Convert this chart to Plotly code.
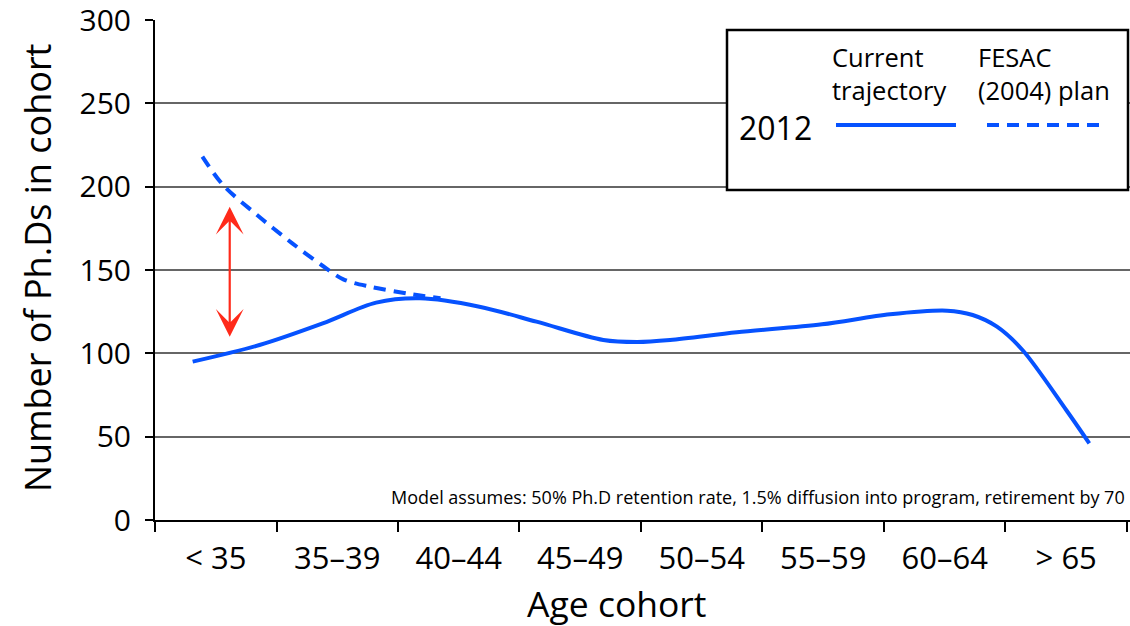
import plotly.graph_objects as go

categories = ["< 35", "35–39", "40–44", "45–49", "50–54", "55–59", "60–64", "> 65"]

# Current trajectory (x in category units)
current_x = [-0.19, 0.36, 0.88, 1.32, 1.68, 2.17, 2.64, 3.19, 3.47, 3.74, 4.29, 4.99, 5.55, 6.02, 6.23, 6.43, 6.64, 7.0, 7.19]
current_y = [95, 105, 118, 130.4, 133, 128, 119, 108, 106.8, 108, 112.6, 117.4, 123.4, 125.6, 123, 116, 102, 66, 46]

# FESAC (2004) plan
fesac_x = [-0.11, 0.06, 0.34, 0.63, 0.87, 1.05, 1.27, 1.62, 1.85]
fesac_y = [218, 201, 183, 166, 153, 144.4, 140, 135.4, 133]

y_ticks = [0, 50, 100, 150, 200, 250, 300]
arrow_x = 0.115
arrow_top = 188
arrow_bottom = 109

BLUE = "#0652ff"
RED = "#ff2a1a"
FONT = "Open Sans"

fig = go.Figure()
fig.add_trace(go.Scatter(x=current_x, y=current_y, mode="lines",
                         line=dict(color=BLUE, width=4, shape="spline", smoothing=0.9),
                         showlegend=False, hoverinfo="skip"))
fig.add_trace(go.Scatter(x=fesac_x, y=fesac_y, mode="lines",
                         line=dict(color=BLUE, width=4, shape="spline", smoothing=0.9, dash="12px,8px"),
                         showlegend=False, hoverinfo="skip"))

W, H = 1130, 626
L, R, T, B = 155, 0, 20, 106
pw = W - L - R
ph = H - T - B

def px(xp):  # page pixel -> paper
    return (xp - L) / pw

def py(yp):
    return (H - B - yp) / ph

fig.update_layout(
    width=W, height=H,
    margin=dict(l=L, r=R, t=T, b=B, autoexpand=False),
    paper_bgcolor="white", plot_bgcolor="white",
    font=dict(family=FONT, color="black"),
    showlegend=False,
    xaxis=dict(
        range=[-0.5, 7.525], tickmode="array", tickvals=list(range(len(categories))),
        ticktext=categories, ticks="", showgrid=False, zeroline=False,
        showline=True, linecolor="black", linewidth=2, automargin=False,
        tickfont=dict(size=31, family=FONT, color="black"),
        ticklabelstandoff=10, ticklabeloverflow="allow",
        minor=dict(tickmode="array", tickvals=[i - 0.5 for i in range(len(categories) + 1)],
                   ticks="outside", ticklen=10, tickwidth=2, tickcolor="black", showgrid=False),
    ),
    yaxis=dict(
        range=[0, 300], tickmode="array", tickvals=y_ticks,
        ticks="outside", ticklen=8, tickwidth=2, tickcolor="black",
        showgrid=True, gridcolor="#666666", gridwidth=1.5, zeroline=False,
        showline=True, linecolor="black", linewidth=2, automargin=False,
        tickfont=dict(size=30, family=FONT, color="black"),
        ticklabelstandoff=8, ticklabeloverflow="allow",
    ),
)

shapes = []
shapes.append(dict(type="rect", xref="paper", yref="paper",
                   x0=px(727), x1=px(1128), y0=py(190), y1=py(30),
                   line=dict(color="black", width=2.5), fillcolor="white", layer="above"))
shapes.append(dict(type="line", xref="paper", yref="paper",
                   x0=px(836), x1=px(956), y0=py(125), y1=py(125),
                   line=dict(color=BLUE, width=4)))
shapes.append(dict(type="line", xref="paper", yref="paper",
                   x0=px(987), x1=px(1107), y0=py(125), y1=py(125),
                   line=dict(color=BLUE, width=4, dash="12px,8px")))
fig.update_layout(shapes=shapes)

ann = []
def text(t, x, y, size, xanchor="left", yanchor="middle", angle=0, align="left"):
    ann.append(dict(text=t, xref="paper", yref="paper", x=x, y=y, xanchor=xanchor,
                    yanchor=yanchor, showarrow=False, textangle=angle, align=align,
                    font=dict(size=size, family=FONT, color="black")))

text("Current<br>trajectory", px(830), py(73), 25.5)
text("FESAC<br>(2004) plan", px(976), py(73), 25.5)
text("2012", px(737), py(128), 32)
text("Model assumes: 50% Ph.D retention rate, 1.5% diffusion into program, retirement by 70",
     px(1127), py(497), 18, xanchor="right", align="right")
text("Age cohort", px(617), py(603), 35.5, xanchor="center", align="center")
text("Number of Ph.Ds in cohort", px(37), py(268), 36, xanchor="center", angle=-90, align="center")

ann.append(dict(text="", x=arrow_x, y=arrow_top, ax=arrow_x, ay=arrow_bottom,
                xref="x", yref="y", axref="x", ayref="y", showarrow=True,
                arrowhead=3, startarrowhead=3, arrowside="end+start",
                arrowsize=2.1, startarrowsize=2.1, arrowwidth=2.2, arrowcolor=RED))
fig.update_layout(annotations=ann)

fig.write_html(
    "out.html",
    config={"displayModeBar": False},
    post_script="document.body.style.margin='0';document.body.style.overflow='hidden';"
                "document.documentElement.style.overflow='hidden';",
)
